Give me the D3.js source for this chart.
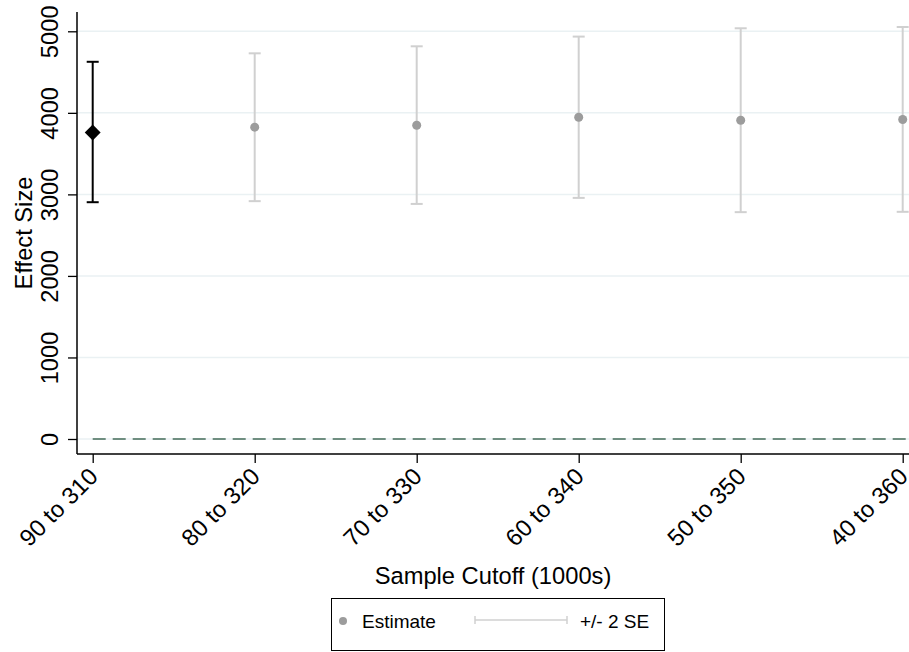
<!DOCTYPE html>
<html>
<head>
<meta charset="utf-8">
<script src="https://cdn.jsdelivr.net/npm/d3@7"></script>
<style>
  html, body { margin: 0; padding: 0; background: #fff; }
  svg { display: block; font-family: "Liberation Sans", Arial, Helvetica, sans-serif; }
</style>
</head>
<body>
<svg id="chart" width="909" height="652"></svg>
<script>
// ---- data ----
const categories = ["90 to 310", "80 to 320", "70 to 330", "60 to 340", "50 to 350", "40 to 360"];
const estimates  = [3759, 3824, 3848, 3946, 3909, 3918];
const ciLow      = [2904, 2917, 2883, 2957, 2782, 2786];
const ciHigh     = [4626, 4730, 4816, 4935, 5037, 5053];
const highlight  = [true, false, false, false, false, false];
const yTicks     = [0, 1000, 2000, 3000, 4000, 5000];
const refValue   = 0;
const xTitle = "Sample Cutoff (1000s)";
const yTitle = "Effect Size";
const legendLabels = ["Estimate", "+/- 2 SE"];

const data = categories.map((c, i) => ({
  cat: c, est: estimates[i], lo: ciLow[i], hi: ciHigh[i], hl: highlight[i]
}));

// ---- layout ----
const svg = d3.select("#chart");
const plotLeft = 77, plotRight = 909, plotTop = 12, plotBottom = 454;
const axisFont = 23.7;

const x = d3.scalePoint().domain(categories).range([92.7, 902.7]);
const y = d3.scaleLinear().domain([0, 5000]).range([439, 31.3]);

const grey = "#9c9c9c", ciGrey = "#d0d0d0";

// gridlines
svg.append("g").selectAll("line").data(yTicks).join("line")
  .attr("x1", plotLeft).attr("x2", plotRight)
  .attr("y1", d => y(d)).attr("y2", d => y(d))
  .attr("stroke", "#eaf1f3").attr("stroke-width", 1.5);

// reference dashed line
svg.append("line")
  .attr("x1", x(categories[0])).attr("x2", plotRight)
  .attr("y1", y(refValue)).attr("y2", y(refValue))
  .attr("stroke", "#6f8e80").attr("stroke-width", 2)
  .attr("stroke-dasharray", "13,7");

// axes
const yAxis = d3.axisLeft(y).tickValues(yTicks).tickSize(9).tickPadding(0).tickFormat(d3.format("d"));
const gy = svg.append("g").attr("transform", `translate(${plotLeft},0)`).call(yAxis);
gy.select(".domain").remove();
gy.append("line").attr("x1", 0).attr("x2", 0).attr("y1", plotTop).attr("y2", plotBottom)
  .attr("stroke", "#000").attr("stroke-width", 1.5);
gy.selectAll(".tick line").attr("stroke", "#000").attr("stroke-width", 1.3);
gy.selectAll(".tick text")
  .attr("x", 0).attr("dy", 0)
  .attr("transform", "translate(-19,0) rotate(-90)")
  .attr("text-anchor", "middle")
  .attr("font-size", axisFont).attr("fill", "#000")
  .attr("font-family", "Liberation Sans, Arial, sans-serif");

const xAxis = d3.axisBottom(x).tickSize(9).tickSizeOuter(0);
const gx = svg.append("g").attr("transform", `translate(0,${plotBottom})`).call(xAxis);
gx.select(".domain").remove();
gx.append("line").attr("x1", plotLeft).attr("x2", plotRight).attr("y1", 0).attr("y2", 0)
  .attr("stroke", "#000").attr("stroke-width", 1.5);
gx.selectAll(".tick line").attr("stroke", "#000").attr("stroke-width", 1.3);
gx.selectAll(".tick text")
  .attr("x", 0).attr("y", 0).attr("dy", 0)
  .attr("transform", "translate(6,24) rotate(-45)")
  .attr("text-anchor", "end")
  .attr("font-size", axisFont).attr("fill", "#000")
  .attr("font-family", "Liberation Sans, Arial, sans-serif");

// titles
svg.append("text").attr("transform", `translate(32,${(plotTop + plotBottom) / 2}) rotate(-90)`)
  .attr("text-anchor", "middle").attr("font-size", axisFont).text(yTitle);
svg.append("text").attr("x", (plotLeft + plotRight) / 2).attr("y", 584)
  .attr("text-anchor", "middle").attr("font-size", axisFont).text(xTitle);

// error bars
const eb = svg.append("g").selectAll("g").data(data).join("g");
eb.append("line")
  .attr("x1", d => x(d.cat)).attr("x2", d => x(d.cat))
  .attr("y1", d => y(d.lo)).attr("y2", d => y(d.hi))
  .attr("stroke", d => d.hl ? "#000" : ciGrey).attr("stroke-width", 2);
eb.selectAll(".cap").data(d => [{d, v: d.lo}, {d, v: d.hi}]).join("line")
  .attr("x1", e => x(e.d.cat) - 6).attr("x2", e => x(e.d.cat) + 6)
  .attr("y1", e => y(e.v)).attr("y2", e => y(e.v))
  .attr("stroke", e => e.d.hl ? "#000" : ciGrey).attr("stroke-width", 2);

// markers
svg.append("g").selectAll("circle").data(data.filter(d => !d.hl)).join("circle")
  .attr("cx", d => x(d.cat)).attr("cy", d => y(d.est)).attr("r", 4.5)
  .attr("fill", grey);
const diamond = d3.symbol().type(d3.symbolDiamond2).size(160);
svg.append("g").selectAll("path").data(data.filter(d => d.hl)).join("path")
  .attr("transform", d => `translate(${x(d.cat)},${y(d.est)})`)
  .attr("d", diamond).attr("fill", "#000");

// legend
const lg = svg.append("g");
lg.append("rect").attr("x", 331.5).attr("y", 598.5).attr("width", 333).attr("height", 52)
  .attr("fill", "#fff").attr("stroke", "#000").attr("stroke-width", 1);
lg.append("circle").attr("cx", 343).attr("cy", 621).attr("r", 4).attr("fill", grey);
lg.append("text").attr("x", 362).attr("y", 628).attr("font-size", 19).text(legendLabels[0]);
lg.append("line").attr("x1", 475).attr("x2", 567).attr("y1", 620).attr("y2", 620)
  .attr("stroke", ciGrey).attr("stroke-width", 1.5);
[475, 567].forEach(px => lg.append("line").attr("x1", px).attr("x2", px).attr("y1", 616).attr("y2", 624)
  .attr("stroke", ciGrey).attr("stroke-width", 1.5));
lg.append("text").attr("x", 580).attr("y", 628).attr("font-size", 19).text(legendLabels[1]);
</script>
</body>
</html>
